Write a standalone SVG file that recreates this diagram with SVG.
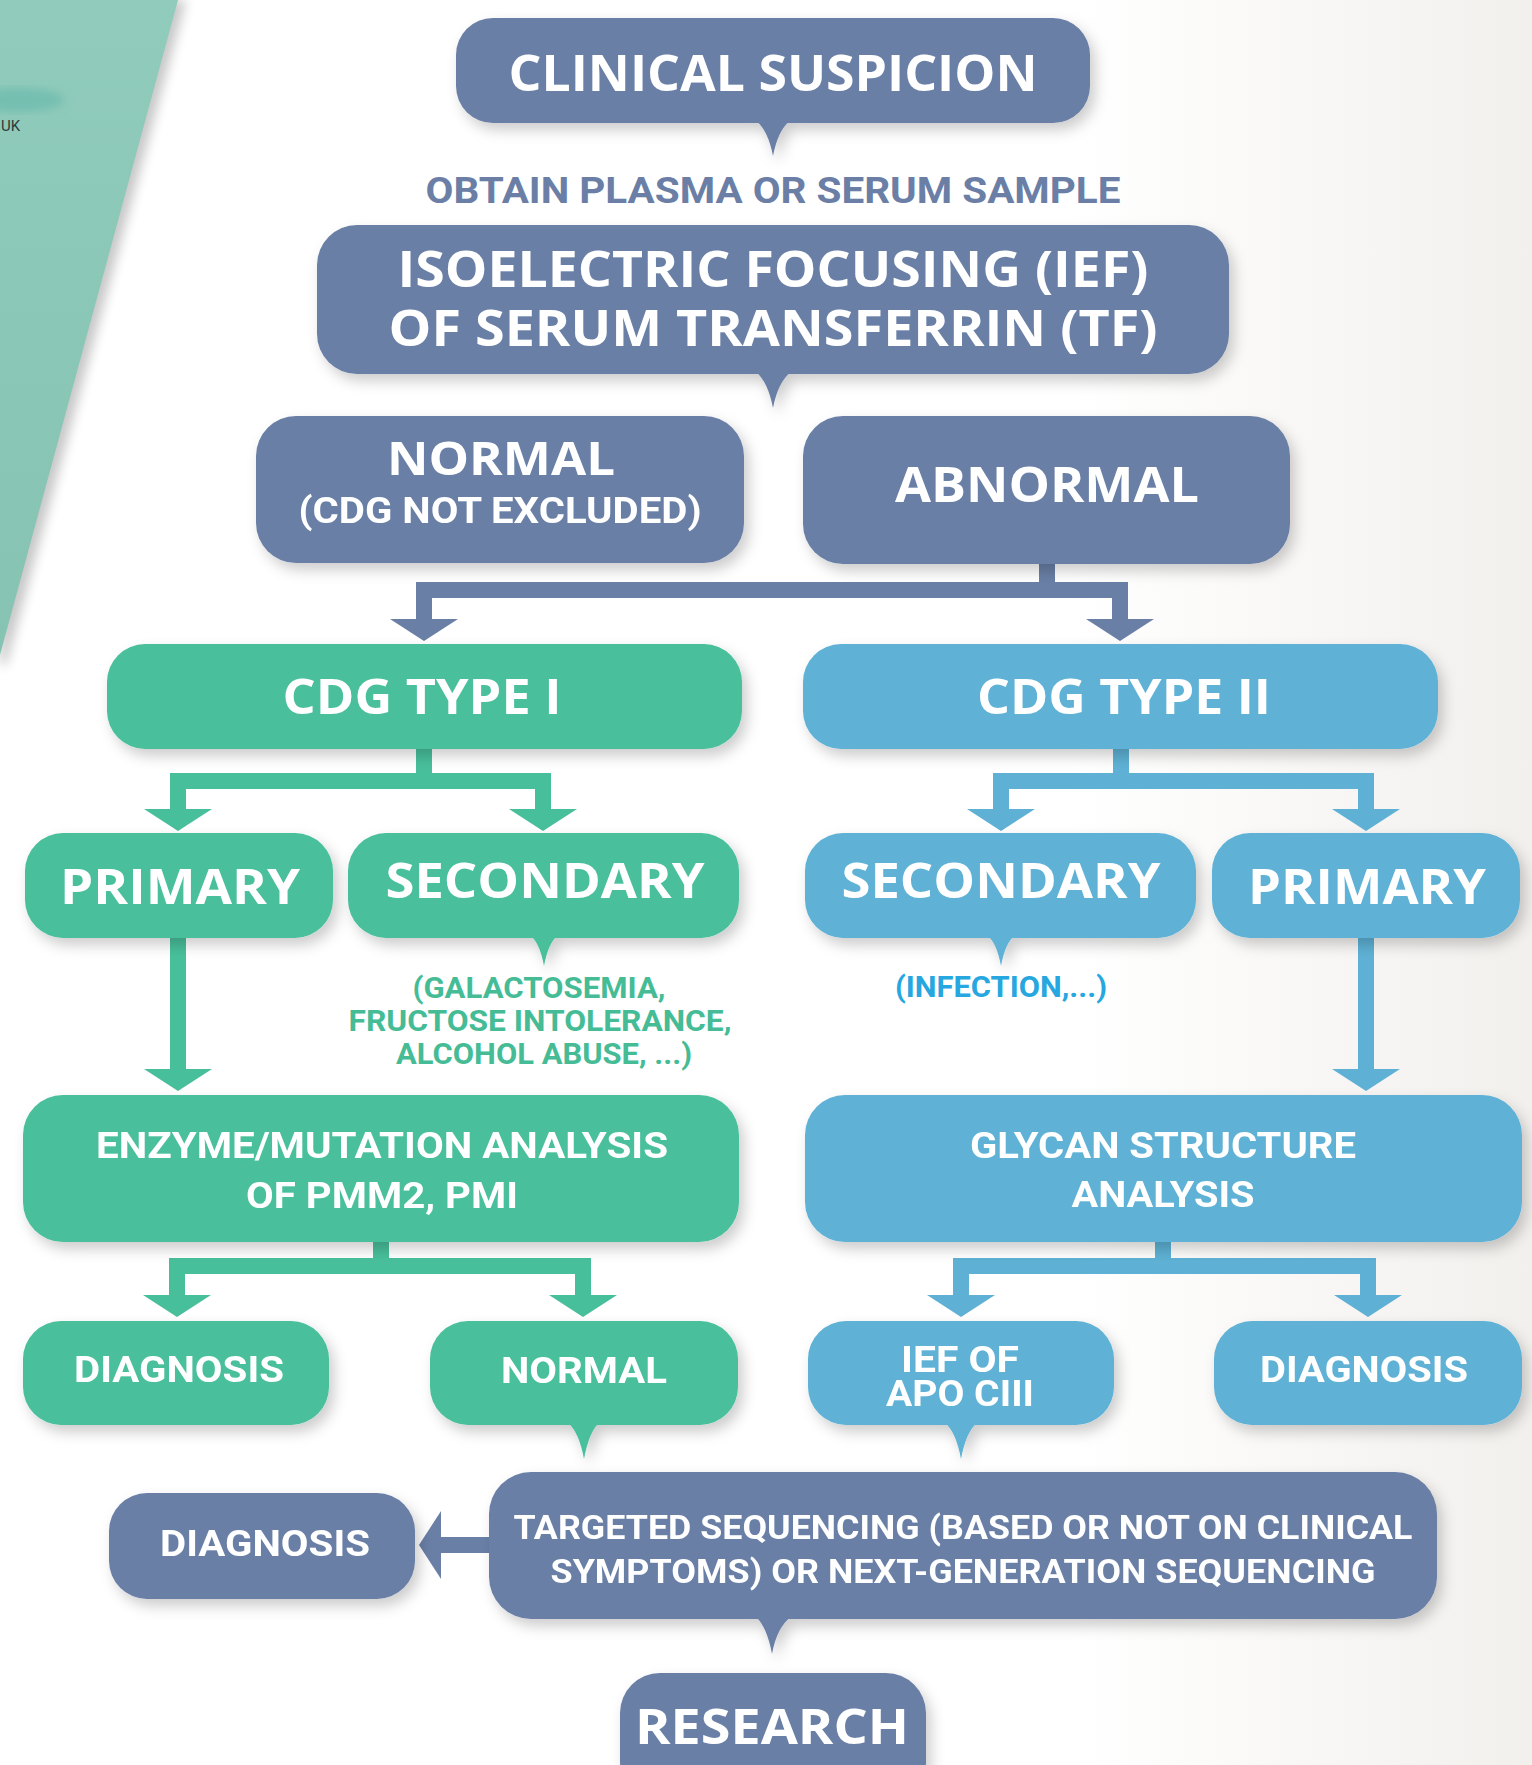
<svg xmlns="http://www.w3.org/2000/svg" width="1532" height="1765" viewBox="0 0 1532 1765">
<defs>
<style>
.h{font-family:"Open Sans","DejaVu Sans",sans-serif;font-weight:700;fill:#fff;text-anchor:middle}
.c{font-family:Roboto,"Liberation Sans",sans-serif;font-weight:700;fill:#fff;text-anchor:middle}
.slate{fill:#6a7fa6}
.green{fill:#48bf9b}
.blue{fill:#5eb1d5}
.ls{fill:none;stroke:#6a7fa6;stroke-width:16;stroke-linejoin:miter}
.lg{fill:none;stroke:#48bf9b;stroke-width:16;stroke-linejoin:miter}
.lb{fill:none;stroke:#5eb1d5;stroke-width:16;stroke-linejoin:miter}
.node{filter:url(#sh)}
</style>
<linearGradient id="bg" x1="0" y1="0" x2="1" y2="0">
<stop offset="0" stop-color="#ffffff"/>
<stop offset="0.7" stop-color="#ffffff"/>
<stop offset="1" stop-color="#f2f0ed"/>
</linearGradient>
<linearGradient id="teal" x1="0" y1="0" x2="0" y2="1">
<stop offset="0" stop-color="#90cbbb"/>
<stop offset="1" stop-color="#86c3b3"/>
</linearGradient>
<filter id="sh" x="-10%" y="-20%" width="125%" height="150%">
<feDropShadow dx="5" dy="7" stdDeviation="7" flood-color="#000" flood-opacity="0.2"/>
</filter>
<filter id="blur6"><feGaussianBlur stdDeviation="6"/></filter>
<filter id="blur4"><feGaussianBlur stdDeviation="4"/></filter>
<marker id="as" viewBox="0 -34 22 68" refX="0" refY="0" markerWidth="22" markerHeight="68" orient="auto" markerUnits="userSpaceOnUse"><path d="M0,-34 L22,0 L0,34Z" fill="#6a7fa6"/></marker>
<marker id="ag" viewBox="0 -34 22 68" refX="0" refY="0" markerWidth="22" markerHeight="68" orient="auto" markerUnits="userSpaceOnUse"><path d="M0,-34 L22,0 L0,34Z" fill="#48bf9b"/></marker>
<marker id="ab" viewBox="0 -34 22 68" refX="0" refY="0" markerWidth="22" markerHeight="68" orient="auto" markerUnits="userSpaceOnUse"><path d="M0,-34 L22,0 L0,34Z" fill="#5eb1d5"/></marker>
</defs>

<rect x="0" y="0" width="1532" height="1765" fill="url(#bg)"/>
<g id="backdrop">
<polygon points="0,0 186,0 6,665 0,665" fill="#000" opacity="0.22" filter="url(#blur6)"/>
<polygon points="0,0 178,0 0,655" fill="url(#teal)"/>
<ellipse cx="18" cy="100" rx="46" ry="12" fill="#74bfb1" filter="url(#blur4)"/>
<text x="1" y="131" font-family="Roboto,'Liberation Sans',sans-serif" font-size="15" fill="#2f3a3a">UK</text>
</g>

<g id="connectors">
<path class="ls" d="M1047,562 V590 H424 V619" marker-end="url(#as)"/>
<path class="ls" d="M1047,590 H1120 V619" marker-end="url(#as)"/>
<path class="lg" d="M424,747 V781 H178 V809" marker-end="url(#ag)"/>
<path class="lg" d="M424,781 H543 V809" marker-end="url(#ag)"/>
<path class="lb" d="M1121,747 V781 H1001 V809" marker-end="url(#ab)"/>
<path class="lb" d="M1121,781 H1366 V809" marker-end="url(#ab)"/>
<path class="lg" d="M178,936 V1069" marker-end="url(#ag)"/>
<path class="lb" d="M1366,936 V1069" marker-end="url(#ab)"/>
<path class="lg" d="M381,1240 V1266 H177 V1295" marker-end="url(#ag)"/>
<path class="lg" d="M381,1266 H583 V1295" marker-end="url(#ag)"/>
<path class="lb" d="M1163,1240 V1266 H961 V1295" marker-end="url(#ab)"/>
<path class="lb" d="M1163,1266 H1368 V1295" marker-end="url(#ab)"/>
<path class="ls" d="M492,1545 H441" marker-end="url(#as)"/>
</g>

<g id="clinical-suspicion" class="node">
<rect class="slate" x="456" y="18" width="634" height="105" rx="37"/>
<path class="slate" d="M756,121 Q768,130 773,156 Q778,130 790,121 Z"/>
<text class="h" x="773" y="91" font-size="50" textLength="529" lengthAdjust="spacingAndGlyphs">CLINICAL SUSPICION</text>
</g>

<g id="obtain-sample">
<text class="c" x="773" y="203" font-size="36" style="fill:#6b7fa6" textLength="695" lengthAdjust="spacingAndGlyphs">OBTAIN PLASMA OR SERUM SAMPLE</text>
</g>

<g id="ief-tf" class="node">
<rect class="slate" x="317" y="225" width="912" height="149" rx="40"/>
<path class="slate" d="M756,372 Q768,382 773,408 Q778,382 791,372 Z"/>
<text class="h" x="773" y="287" font-size="50" textLength="751" lengthAdjust="spacingAndGlyphs">ISOELECTRIC FOCUSING (IEF)</text>
<text class="h" x="773" y="346" font-size="50" textLength="769" lengthAdjust="spacingAndGlyphs">OF SERUM TRANSFERRIN (TF)</text>
</g>

<g id="normal-top" class="node">
<rect class="slate" x="256" y="416" width="488" height="147" rx="40"/>
<text class="h" x="501" y="475" font-size="47" textLength="228" lengthAdjust="spacingAndGlyphs">NORMAL</text>
<text class="c" x="500" y="523" font-size="36" textLength="403" lengthAdjust="spacingAndGlyphs">(CDG NOT EXCLUDED)</text>
</g>

<g id="abnormal" class="node">
<rect class="slate" x="803" y="416" width="487" height="148" rx="40"/>
<text class="h" x="1047" y="502" font-size="48" textLength="304" lengthAdjust="spacingAndGlyphs">ABNORMAL</text>
</g>

<g id="cdg-type-1" class="node">
<rect class="green" x="107" y="644" width="635" height="105" rx="38"/>
<text class="h" x="422" y="714" font-size="48" textLength="279" lengthAdjust="spacingAndGlyphs">CDG TYPE I</text>
</g>

<g id="cdg-type-2" class="node">
<rect class="blue" x="803" y="644" width="635" height="105" rx="38"/>
<text class="h" x="1124" y="714" font-size="48" textLength="294" lengthAdjust="spacingAndGlyphs">CDG TYPE II</text>
</g>

<g id="primary-1" class="node">
<rect class="green" x="25" y="833" width="308" height="105" rx="38"/>
<text class="h" x="180" y="904" font-size="48" textLength="240" lengthAdjust="spacingAndGlyphs">PRIMARY</text>
</g>

<g id="secondary-1" class="node">
<rect class="green" x="348" y="833" width="391" height="105" rx="38"/>
<path class="green" d="M531,936 Q540,944 544,966 Q548,944 557,936 Z"/>
<text class="h" x="545" y="898" font-size="48" textLength="319" lengthAdjust="spacingAndGlyphs">SECONDARY</text>
</g>

<g id="secondary-1-causes">
<text class="c" x="539" y="998" font-size="30" style="fill:#45bc95" textLength="253" lengthAdjust="spacingAndGlyphs">(GALACTOSEMIA,</text>
<text class="c" x="540" y="1031" font-size="30" style="fill:#45bc95" textLength="383" lengthAdjust="spacingAndGlyphs">FRUCTOSE INTOLERANCE,</text>
<text class="c" x="544" y="1064" font-size="30" style="fill:#45bc95" textLength="296" lengthAdjust="spacingAndGlyphs">ALCOHOL ABUSE, ...)</text>
</g>

<g id="secondary-2" class="node">
<rect class="blue" x="805" y="833" width="391" height="105" rx="38"/>
<path class="blue" d="M988,936 Q997,944 1001,966 Q1005,944 1014,936 Z"/>
<text class="h" x="1001" y="898" font-size="48" textLength="319" lengthAdjust="spacingAndGlyphs">SECONDARY</text>
</g>

<g id="secondary-2-causes">
<text class="c" x="1001" y="997" font-size="30" style="fill:#27a7df" textLength="212" lengthAdjust="spacingAndGlyphs">(INFECTION,...)</text>
</g>

<g id="primary-2" class="node">
<rect class="blue" x="1212" y="833" width="308" height="105" rx="38"/>
<text class="h" x="1367" y="904" font-size="48" textLength="238" lengthAdjust="spacingAndGlyphs">PRIMARY</text>
</g>

<g id="enzyme-analysis" class="node">
<rect class="green" x="23" y="1095" width="716" height="147" rx="40"/>
<text class="c" x="382" y="1158" font-size="37" textLength="572" lengthAdjust="spacingAndGlyphs">ENZYME/MUTATION ANALYSIS</text>
<text class="c" x="382" y="1208" font-size="37" textLength="272" lengthAdjust="spacingAndGlyphs">OF PMM2, PMI</text>
</g>

<g id="glycan-analysis" class="node">
<rect class="blue" x="805" y="1095" width="717" height="147" rx="40"/>
<text class="c" x="1163" y="1158" font-size="37" textLength="386" lengthAdjust="spacingAndGlyphs">GLYCAN STRUCTURE</text>
<text class="c" x="1163" y="1207" font-size="37" textLength="183" lengthAdjust="spacingAndGlyphs">ANALYSIS</text>
</g>

<g id="diagnosis-1" class="node">
<rect class="green" x="23" y="1321" width="306" height="104" rx="38"/>
<text class="c" x="179" y="1382" font-size="37" textLength="210" lengthAdjust="spacingAndGlyphs">DIAGNOSIS</text>
</g>

<g id="normal-1" class="node">
<rect class="green" x="430" y="1321" width="308" height="104" rx="38"/>
<path class="green" d="M568,1423 Q579,1432 584,1459 Q589,1432 599,1423 Z"/>
<text class="c" x="584" y="1383" font-size="37" textLength="166" lengthAdjust="spacingAndGlyphs">NORMAL</text>
</g>

<g id="ief-apo-ciii" class="node">
<rect class="blue" x="808" y="1321" width="306" height="104" rx="38"/>
<path class="blue" d="M945,1423 Q956,1432 961,1459 Q966,1432 977,1423 Z"/>
<text class="c" x="960" y="1372" font-size="37" textLength="118" lengthAdjust="spacingAndGlyphs">IEF OF</text>
<text class="c" x="960" y="1406" font-size="37" textLength="148" lengthAdjust="spacingAndGlyphs">APO CIII</text>
</g>

<g id="diagnosis-2" class="node">
<rect class="blue" x="1214" y="1321" width="308" height="104" rx="38"/>
<text class="c" x="1364" y="1382" font-size="37" textLength="208" lengthAdjust="spacingAndGlyphs">DIAGNOSIS</text>
</g>

<g id="targeted-sequencing" class="node">
<rect class="slate" x="489" y="1472" width="948" height="147" rx="42"/>
<path class="slate" d="M756,1617 Q767,1627 772,1654 Q777,1627 791,1617 Z"/>
<text class="c" x="963" y="1539" font-size="34" textLength="899" lengthAdjust="spacingAndGlyphs">TARGETED SEQUENCING (BASED OR NOT ON CLINICAL</text>
<text class="c" x="963" y="1583" font-size="34" textLength="825" lengthAdjust="spacingAndGlyphs">SYMPTOMS) OR NEXT-GENERATION SEQUENCING</text>
</g>

<g id="diagnosis-3" class="node">
<rect class="slate" x="109" y="1493" width="306" height="106" rx="38"/>
<text class="c" x="265" y="1556" font-size="37" textLength="210" lengthAdjust="spacingAndGlyphs">DIAGNOSIS</text>
</g>

<g id="research" class="node">
<rect class="slate" x="620" y="1673" width="306" height="130" rx="40"/>
<text class="h" x="772" y="1744" font-size="48" textLength="274" lengthAdjust="spacingAndGlyphs">RESEARCH</text>
</g>
</svg>
